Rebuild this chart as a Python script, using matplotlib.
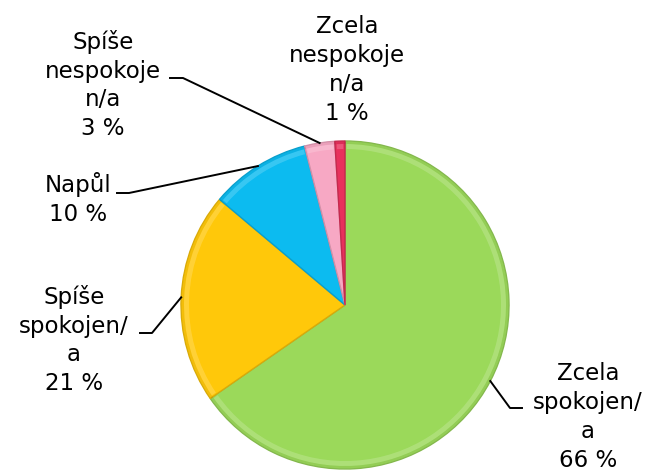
import numpy as np
import matplotlib.pyplot as plt
from matplotlib.patches import Wedge
from matplotlib.colors import to_rgb

# data
labels = ["Zcela\nspokojen/\na", "Spíše\nspokojen/\na", "Napůl",
          "Spíše\nnespokoje\nn/a", "Zcela\nnespokoje\nn/a"]
values = [66, 21, 10, 3, 1]
colors = ["#9BD95A", "#FFC80A", "#0CBBF0", "#F7A8C4", "#E8305C"]

# label layout (pixel coords, y measured from top)
label_pos = [(588, 417), (74, 340), (78, 199), (103, 85), (347, 70)]
elbows = [[(522, 408), (510, 408)], [(140, 333), (152, 333)],
          [(117, 193), (129, 193)], [(170, 78), (183, 78)], None]

W, H = 652, 474
cx, cy, r = 345, 305, 164

fig = plt.figure(figsize=(W / 100, H / 100), dpi=100)
ax = fig.add_axes([0, 0, 1, 1])

wedges, _ = ax.pie(values, colors=colors, startangle=90, counterclock=False,
                   center=(cx, H - cy), radius=r, frame=True,
                   wedgeprops=dict(linewidth=1.0))
ax.set_xlim(0, W)
ax.set_ylim(0, H)
ax.set_aspect("equal")
ax.axis("off")

# rough bevel: darker edge, light inner band
for w, c in zip(wedges, colors):
    w.set_edgecolor(tuple(0.85 * np.array(to_rgb(c))))
    ax.add_patch(Wedge(w.center, w.r - 3, w.theta1 + 0.6, w.theta2 - 0.6,
                       width=5, facecolor="white", alpha=0.18, edgecolor="none"))
    ax.add_patch(Wedge(w.center, w.r - 1, w.theta1, w.theta2,
                       width=2, facecolor="black", alpha=0.05, edgecolor="none"))

for i, (lab, v) in enumerate(zip(labels, values)):
    x, y = label_pos[i]
    ax.text(x, H - y, f"{lab}\n{v} %", ha="center", va="center",
            fontsize=16.5, linespacing=1.32, color="black")
    if elbows[i] is not None:
        w = wedges[i]
        mid = np.deg2rad((w.theta1 + w.theta2) / 2)
        ex = cx + r * np.cos(mid)
        ey = (H - cy) + r * np.sin(mid)
        pts = [(px, H - py) for px, py in elbows[i]] + [(ex, ey)]
        xs, ys = zip(*pts)
        ax.plot(xs, ys, color="black", lw=1.4)

fig.savefig("out.png", dpi=100)
